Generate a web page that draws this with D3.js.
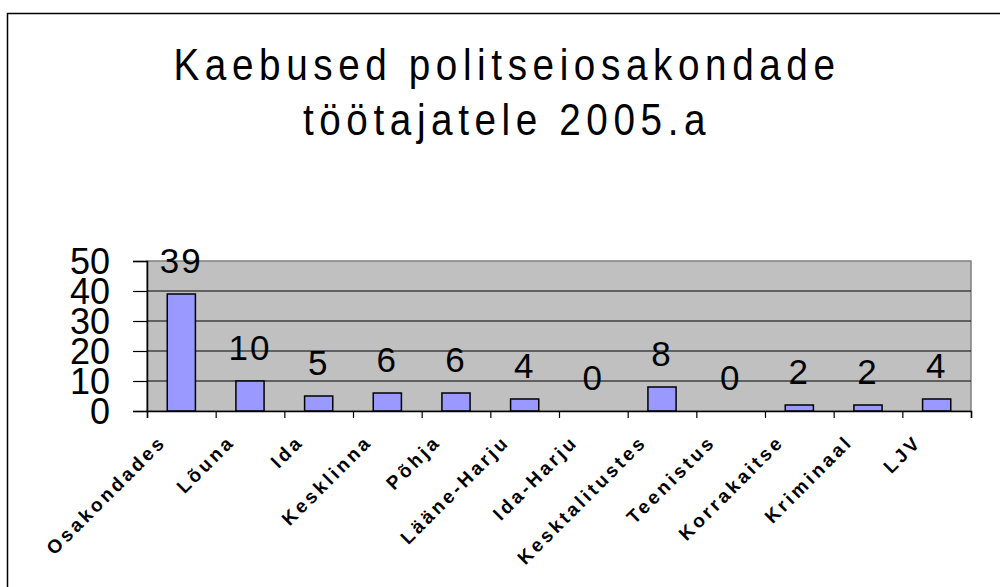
<!DOCTYPE html>
<html>
<head>
<meta charset="utf-8">
<script src="https://cdn.jsdelivr.net/npm/d3@7"></script>
<style>
  body { margin: 0; background: #fff; }
  text { font-family: "Liberation Sans", Arial, sans-serif; }
</style>
</head>
<body>
<script>
// chart data
const categories = ['Osakondades', 'Lõuna', 'Ida', 'Kesklinna', 'Põhja', 'Lääne-Harju',
    'Ida-Harju', 'Kesktalitustes', 'Teenistus', 'Korrakaitse', 'Kriminaal', 'LJV'];
const values = [39, 10, 5, 6, 6, 4, 0, 8, 0, 2, 2, 4];
const yTicks = [0, 10, 20, 30, 40, 50];
const titleLines = ['Kaebused politseiosakondade', 'töötajatele 2005.a'];

const SCREEN = { width: 1000, height: 587 };
const plot = { left: 147, top: 261, right: 971, bottom: 411 };

const svg = d3.select('body').append('svg')
    .attr('width', SCREEN.width)
    .attr('height', SCREEN.height);

// outer frame (only left/top visible)
svg.append('rect')
    .attr('x', 7.5).attr('y', 13.5)
    .attr('width', 1100).attr('height', 700)
    .attr('fill', 'none').attr('stroke', '#000').attr('stroke-width', 1.5);

// title, condensed glyphs with wide spacing
svg.append('g').selectAll('text')
    .data(titleLines)
    .join('text')
    .attr('transform', (d, i) => `translate(507,${80 + i * 55}) scale(0.86,1)`)
    .attr('text-anchor', 'middle')
    .style('font-size', '45px')
    .style('letter-spacing', '6.5px')
    .text(d => d);

const x = d3.scaleBand()
    .domain(categories)
    .range([plot.left, plot.right])
    .paddingInner(0.59)
    .paddingOuter(0.295);

const xTickScale = d3.scaleLinear()
    .domain([0, categories.length])
    .range([plot.left, plot.right]);

const y = d3.scaleLinear()
    .domain([0, 50])
    .range([plot.bottom, plot.top]);

// plot background
svg.append('rect')
    .attr('x', plot.left).attr('y', plot.top)
    .attr('width', plot.right - plot.left).attr('height', plot.bottom - plot.top)
    .attr('fill', '#c0c0c0')
    .attr('stroke', '#808080').attr('stroke-width', 1.5);

// gridlines
svg.append('g').selectAll('line')
    .data(yTicks.filter(d => d > 0 && d < 50))
    .join('line')
    .attr('x1', plot.left).attr('x2', plot.right)
    .attr('y1', d => y(d)).attr('y2', d => y(d))
    .attr('stroke', '#000').attr('stroke-width', 1.2);

// bars
svg.append('g').selectAll('rect')
    .data(values.map((v, i) => ({ cat: categories[i], v })))
    .join('rect')
    .attr('x', d => x(d.cat))
    .attr('y', d => y(d.v))
    .attr('width', x.bandwidth())
    .attr('height', d => y(0) - y(d.v))
    .attr('fill', '#9999ff')
    .attr('stroke', '#000').attr('stroke-width', 1.5);

// y axis
const yAxis = d3.axisLeft(y)
    .tickValues(yTicks)
    .tickSize(14)
    .tickPadding(23)
    .tickFormat(d3.format('d'));
const yAxisGroup = svg.append('g')
    .attr('transform', `translate(${plot.left},0)`)
    .call(yAxis);
yAxisGroup.select('.domain').attr('stroke', '#000').attr('stroke-width', 1.5);
yAxisGroup.selectAll('.tick line').attr('stroke', '#000').attr('stroke-width', 1.2);
yAxisGroup.selectAll('.tick text')
    .style('font-size', '36px')
    .style('font-family', '"Liberation Sans", Arial, sans-serif')
    .attr('fill', '#000')
    .attr('dy', '0.36em');

// x axis with ticks between categories
const xAxis = d3.axisBottom(xTickScale)
    .tickValues(d3.range(categories.length + 1))
    .tickSize(7)
    .tickFormat('');
const xAxisGroup = svg.append('g')
    .attr('transform', `translate(0,${plot.bottom})`)
    .call(xAxis);
xAxisGroup.select('.domain').attr('stroke', '#000').attr('stroke-width', 1.5);
xAxisGroup.selectAll('.tick line').attr('stroke', '#000').attr('stroke-width', 1.2);

// category labels, rotated
svg.append('g').selectAll('text')
    .data(categories)
    .join('text')
    .attr('transform', d => `translate(${x(d) + x.bandwidth() / 2 - 14},${plot.bottom + 32}) rotate(-45)`)
    .attr('text-anchor', 'end')
    .style('font-size', '19px')
    .style('font-weight', 'bold')
    .style('letter-spacing', '3.2px')
    .text(d => d);

// value labels
svg.append('g').selectAll('text')
    .data(values.map((v, i) => ({ cat: categories[i], v })))
    .join('text')
    .attr('x', d => x(d.cat) + x.bandwidth() / 2)
    .attr('y', d => y(d.v) - 21)
    .attr('text-anchor', 'middle')
    .style('font-size', '35px')
    .style('letter-spacing', '2px')
    .text(d => d.v);
</script>
</body>
</html>
